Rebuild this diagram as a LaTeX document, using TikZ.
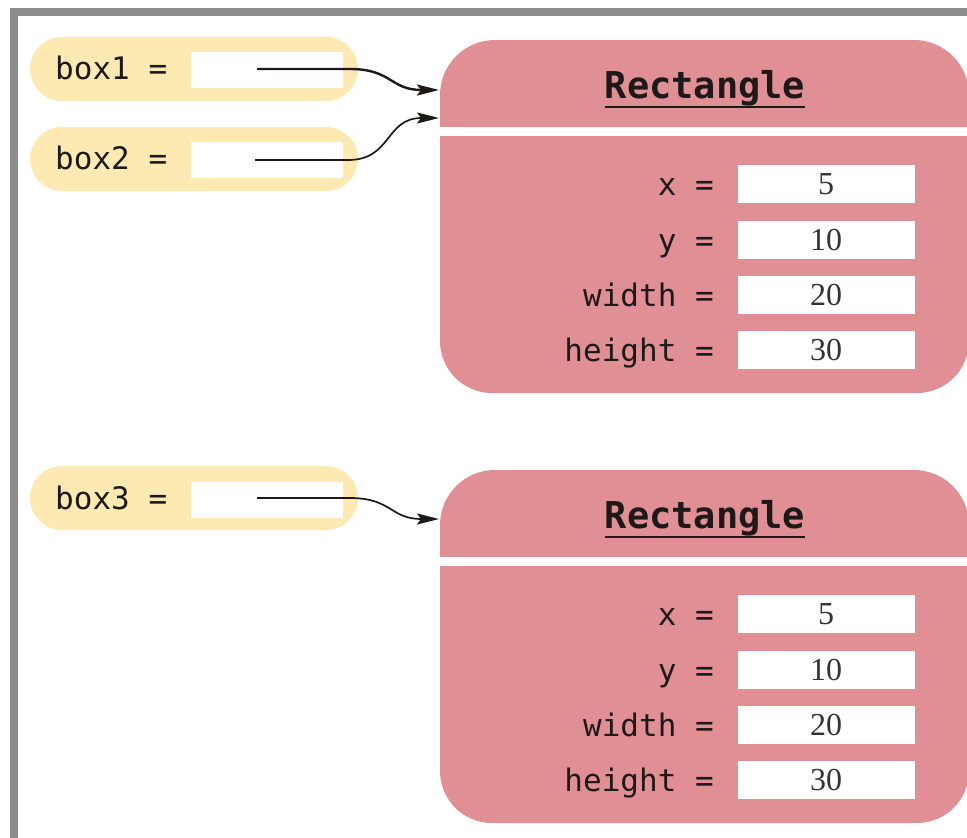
\documentclass[tikz,border=0pt]{standalone}
\usepackage{fontspec}
\setmonofont{DejaVu Sans Mono}
\newfontfamily\valfont{Liberation Serif}
\usetikzlibrary{arrows.meta,calc}
\definecolor{pillyellow}{RGB}{253,234,178}
\definecolor{objpink}{RGB}{224,143,148}
\definecolor{framegray}{RGB}{140,140,140}
\definecolor{inkdark}{RGB}{30,25,25}
\tikzset{
  pill/.style={fill=pillyellow, rounded corners=32pt, minimum width=328pt, minimum height=64pt, inner sep=0pt},
  slot/.style={fill=white, minimum width=152pt, minimum height=36pt, inner sep=0pt},
  varlabel/.style={font=\ttfamily\fontsize{31}{31}\selectfont, text=inkdark, anchor=base west, inner sep=0pt},
  fieldlabel/.style={font=\ttfamily\fontsize{31}{31}\selectfont, text=inkdark, anchor=base east, inner sep=0pt},
  valbox/.style={fill=white, minimum width=177pt, minimum height=38pt, inner sep=0pt,
     font=\valfont\fontsize{32}{32}\selectfont, text=black!80},
  classname/.style={font=\ttfamily\bfseries\fontsize{37}{37}\selectfont, text=inkdark, anchor=base, inner sep=0pt},
  ref/.style={draw=inkdark, line width=1.7pt, -{Stealth[length=22pt,width=11pt,inset=4pt]}},
}
\newcommand{\drawobj}[2]{%
  \begin{scope}[yshift=-#1pt]
    \begin{scope}
      \clip (430,30) rectangle (975,126);
      \fill[objpink, rounded corners=55pt] (440,40) rectangle (969,220);
    \end{scope}
    \begin{scope}
      \clip (430,136) rectangle (975,400);
      \fill[objpink, rounded corners=52pt] (440,60) rectangle (969,393);
    \end{scope}
    \node[classname] (#2title) at (705,98) {Rectangle};
    \draw[inkdark, line width=1.6pt] ($(#2title.base west)+(0,9)$) -- ($(#2title.base east)+(0,9)$);
    \node[valbox] (#2x) at (826,184) {5};
    \node[valbox] (#2y) at (826,240) {10};
    \node[valbox] (#2w) at (826,295) {20};
    \node[valbox] (#2h) at (826,350) {30};
    \node[fieldlabel] (#2xl) at (714,195) {x =};
    \node[fieldlabel] (#2yl) at (714,251) {y =};
    \node[fieldlabel] (#2wl) at (714,306) {width =};
    \node[fieldlabel] (#2hl) at (714,361) {height =};
  \end{scope}}
\begin{document}
\begin{tikzpicture}[x=1pt,y=-1pt]
\useasboundingbox (0,0) rectangle (967,838);
% frame
\draw[framegray, line width=8pt] (14,842) -- (14,12) -- (971,12);

% objects
\drawobj{0}{a}
\drawobj{430}{b}

% variables
\node[pill] (p1) at (194,69) {};
\node[slot] (s1) at (267,70) {};
\node[varlabel] (v1) at (55,79) {box1 =};
\node[pill] (p2) at (194,159) {};
\node[slot] (s2) at (267,159.5) {};
\node[varlabel] (v2) at (55,169) {box2 =};
\node[pill] (p3) at (194,498) {};
\node[slot] (s3) at (267,499.5) {};
\node[varlabel] (v3) at (55,509) {box3 =};

% reference endpoints
\coordinate (r1s) at (257,69);
\coordinate (r1m) at (350,69);
\coordinate (r2s) at (255,160);
\coordinate (r2m) at (348,160);
\coordinate (r3s) at (257,498);
\coordinate (r3m) at (350,498);
\coordinate (t1) at (439,90);
\coordinate (t2) at (439,118);
\coordinate (t3) at (439,519);

\draw[ref, line width=2.4pt] (r1s) -- (r1m) .. controls (392,69) and (390,90) .. (t1);
\draw[ref] (r2s) -- (r2m) .. controls (392,160) and (385,118) .. (t2);
\draw[ref] (r3s) -- (r3m) .. controls (392,498) and (390,519) .. (t3);
\end{tikzpicture}
\end{document}
